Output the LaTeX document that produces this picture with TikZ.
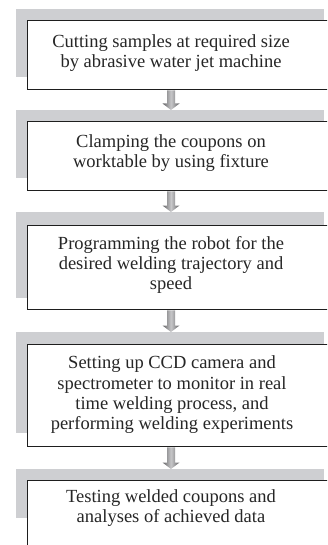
\documentclass[tikz,border=0pt]{standalone}
\usepackage{fontspec}
\setmainfont{Liberation Serif}
\usetikzlibrary{calc}
\definecolor{panelgray}{RGB}{206,207,210}
\definecolor{framedark}{RGB}{30,30,30}
\definecolor{arrowdark}{RGB}{100,100,102}
\definecolor{arrowlight}{RGB}{200,200,202}
\tikzset{
  panel/.style={fill=panelgray, draw=none, inner sep=0pt, anchor=north west},
  frame/.style={fill=white, draw=framedark, line width=1.3pt, inner sep=0pt, anchor=north west, minimum width=303pt},
  steptext/.style={align=center, inner sep=0pt, font=\fontsize{18.5}{20.3}\selectfont, text=black!85},
  arrowshade/.style={left color=arrowdark, right color=arrowdark, middle color=arrowlight}
}
% shaded block arrow pointing down from #1 to #2 (y grows downwards)
\newcommand{\blockarrow}[2]{%
  \shade[arrowshade] ($(#1)+(-4,0)$) -- ($(#2)+(-4,-6.5)$) -- ($(#2)+(-8.5,-6.5)$) -- (#2)
    -- ($(#2)+(8.5,-6.5)$) -- ($(#2)+(4,-6.5)$) -- ($(#1)+(4,0)$) -- cycle;}
\begin{document}
\begin{tikzpicture}[x=1pt, y=-1pt]
\useasboundingbox (0,0) rectangle (327,545);
\fill[white] (0,0) rectangle (327,545);
\clip (0,0) rectangle (327,545);

% grey backing panels
\node[panel, minimum width=308pt, minimum height=68pt] (g1) at (16,9) {};
\node[panel, minimum width=308pt, minimum height=68pt] (g2) at (16,110) {};
\node[panel, minimum width=308pt, minimum height=86pt] (g3) at (16,212) {};
\node[panel, minimum width=308pt, minimum height=101pt] (g4) at (16,332) {};
\node[panel, minimum width=308pt, minimum height=49pt] (g5) at (16,469) {};

% white framed step boxes
\node[frame, minimum height=69pt] (f1) at (27,20) {};
\node[frame, minimum height=69pt] (f2) at (27,121) {};
\node[frame, minimum height=84pt] (f3) at (27,225) {};
\node[frame, minimum height=102pt] (f4) at (27,344) {};
\node[frame, minimum height=90pt] (f5) at (27,480) {};

% step labels
\node[steptext] (t1) at (171,53) {Cutting samples at required size\\by abrasive water jet machine};
\node[steptext] (t2) at (171,153) {Clamping the coupons on\\worktable by using fixture};
\node[steptext] (t3) at (171,265) {Programming the robot for the\\desired welding trajectory and\\speed};
\node[steptext] (t4) at (172,395) {Setting up CCD camera and\\spectrometer to monitor in real\\time welding process, and\\performing welding experiments};
\node[steptext] (t5) at (171,508) {Testing welded coupons and\\analyses of achieved data};

% connectors between steps
\blockarrow{t1 |- f1.south}{t1 |- g2.north}
\blockarrow{t1 |- f2.south}{t1 |- g3.north}
\blockarrow{t1 |- f3.south}{t1 |- g4.north}
\blockarrow{t1 |- f4.south}{t1 |- g5.north}
\end{tikzpicture}
\end{document}
